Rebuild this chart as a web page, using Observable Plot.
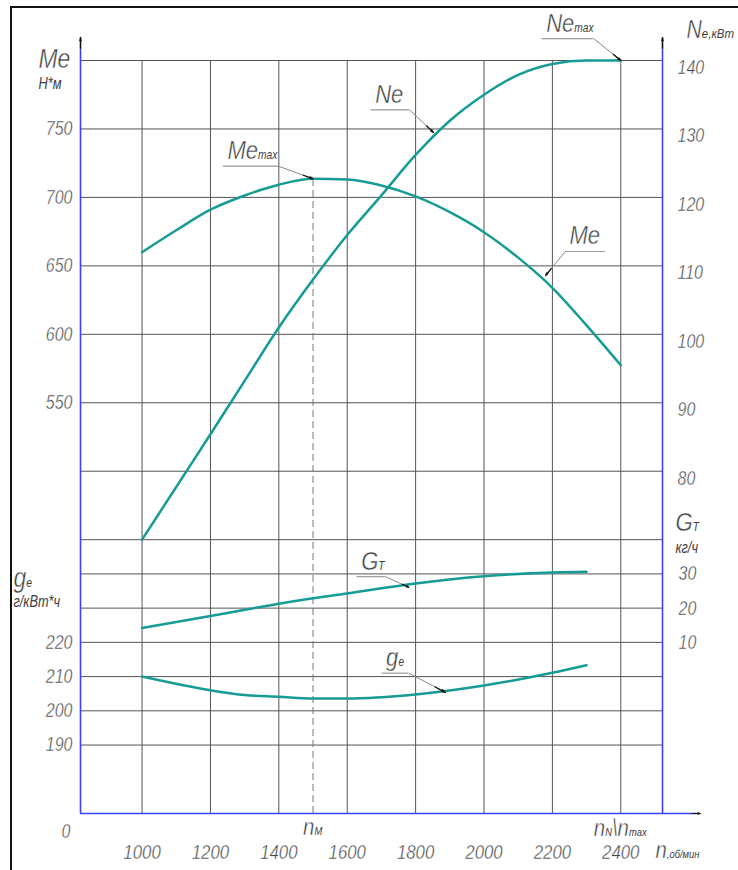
<!DOCTYPE html>
<html>
<head>
<meta charset="utf-8">
<script src="https://cdn.jsdelivr.net/npm/d3@7"></script>
<script src="https://cdn.jsdelivr.net/npm/@observablehq/plot@0.6"></script>
<style>
html, body { margin: 0; padding: 0; background: #fff; }
#wrap { position: relative; width: 738px; height: 870px; overflow: hidden; }
#frame { position: absolute; left: 10px; top: 6px; right: -10px; bottom: -10px;
  border-left: 2px solid #111; border-top: 2px solid #111; pointer-events: none; }
#chart svg text { stroke: #fff; stroke-width: 0.45px; }
#chart svg text tspan[font-size] { stroke: none; }
#chart svg text.small { stroke: none; }
</style>
</head>
<body>
<div id="wrap"><div id="chart"></div><div id="frame"></div></div>
<script>
// ---------- data ----------
const rpm = [1000, 1100, 1200, 1300, 1400, 1500, 1600, 1700, 1800, 1900, 2000, 2100, 2200, 2300, 2400];
const torque = [660, 676, 691, 701.4, 709.3, 713.6, 713.1, 708.7, 700.7, 689.2, 674.6, 656, 634, 606.5, 577.4]; // Me, Н*м
const power = [70, 77.7, 85.4, 93.2, 101.0, 108, 114.5, 120.3, 126.2, 131.2, 135.0, 137.9, 139.5, 140, 140];   // Ne, кВт

const rpmFuel = [1000, 1200, 1300, 1400, 1500, 1600, 1800, 2000, 2200, 2300];
const fuelHourly = [14.2, 17.7, 19.5, 21.3, 22.9, 24.3, 27.2, 29.3, 30.4, 30.6];             // GT, кг/ч
const fuelSpecific = [210, 206, 204.6, 204.1, 203.6, 203.6, 204.8, 207.4, 211.1, 213.3];     // ge, г/кВт*ч

const nM = 1500;   // speed at maximum torque
const nN = 2400;   // rated speed

const xTicks = [1000, 1200, 1400, 1600, 1800, 2000, 2200, 2400];
const torqueTicks = [750, 700, 650, 600, 550];
const specificTicks = [220, 210, 200, 190];
const powerTicks = [140, 130, 120, 110, 100, 90, 80];
const hourlyTicks = [30, 20, 10];
const torqueGrid = [800, 750, 700, 650, 600, 550, 500, 450];
const specificGrid = [240, 230, 220, 210, 200, 190];

// value ranges of the four vertical axes (all share the frame)
const xDomain = [820, 2522];
const torqueDomain = [250, 800];
const powerDomain = [30, 140];
const specificDomain = [170, 390];
const hourlyDomain = [-40, 180];

// annotation callouts: label, series, target point, underline (series units)
const notes = [
  {label: "Me_{max}", s: "Me", tx: 1500, ty: 713.6, ux1: 1238, ux2: 1399, uy: 722.8, end: "right"},
  {label: "Ne",       s: "Ne", tx: 1852, ty: 129.5, ux1: 1670, ux2: 1782, uy: 132.8, end: "right"},
  {label: "Ne_{max}", s: "Ne", tx: 2400, ty: 140,   ux1: 2170, ux2: 2321, uy: 143.2, end: "right"},
  {label: "Me",       s: "Me", tx: 2180, ty: 643,   ux1: 2238, ux2: 2355, uy: 660.5, end: "left"},
  {label: "G_{T}",    s: "Gt", tx: 1780, ty: 26.1,  ux1: 1629, ux2: 1712, uy: 29.2,  end: "right"},
  {label: "g_{e}",    s: "ge", tx: 1887, ty: 205.4, ux1: 1702, ux2: 1780, uy: 211,   end: "right"}
];

// ---------- helpers ----------
const mapTo = dom => v => torqueDomain[0] + (v - dom[0]) * (torqueDomain[1] - torqueDomain[0]) / (dom[1] - dom[0]);
const Y = {Me: v => v, Ne: mapTo(powerDomain), ge: mapTo(specificDomain), Gt: mapTo(hourlyDomain)};

const TEAL = "#169b95";
const BLUE = "#3f3fff";
const GRID = "#555";
const INK = "#404040";
const FONT = "'Liberation Sans', Arial, sans-serif";

const torqueData = rpm.map((n, i) => ({n, v: torque[i]}));
const powerData = rpm.map((n, i) => ({n, v: power[i]}));
const hourlyData = rpmFuel.map((n, i) => ({n, v: fuelHourly[i]}));
const specificData = rpmFuel.map((n, i) => ({n, v: fuelSpecific[i]}));

const axisTop = 817;       // arrow tips of vertical axes (torque units)
const axisRightEnd = 2633; // arrow tip of horizontal axis (rpm)

const leader = notes.map(d => {
  const sx = d.end === "right" ? d.ux2 : d.ux1;
  const sy = Y[d.s](d.uy), ty = Y[d.s](d.ty);
  return {sx, sy, tx: d.tx, ty, hx: sx + (d.tx - sx) * 0.72, hy: sy + (ty - sy) * 0.72};
});

function label(text, frameAnchor, dx, dy, o = {}) {
  return Plot.text([text], {
    text: d => d, frameAnchor, dx, dy,
    fontSize: o.size || 20, textAnchor: o.anchor || "start", lineAnchor: o.line || "bottom",
    fill: INK, fontFamily: FONT, fontStyle: "italic"
  });
}

const txt = {fill: INK, fontFamily: FONT, fontStyle: "italic", fontSize: 20};

const plot = Plot.plot({
  width: 738, height: 870,
  marginLeft: 80, marginRight: 76, marginTop: 60, marginBottom: 57,
  x: {domain: xDomain, axis: null},
  y: {domain: torqueDomain, axis: null},
  style: {fontFamily: FONT, background: "white", overflow: "visible"},
  marks: [
    // grid
    Plot.ruleY([...torqueGrid.map(Y.Me), ...specificGrid.map(Y.ge)], {stroke: GRID, strokeWidth: 1}),
    Plot.ruleX(xTicks, {y1: torqueDomain[0], y2: torqueDomain[1], stroke: GRID, strokeWidth: 1}),
    // n_M dashed
    Plot.ruleX([nM], {y1: torqueDomain[0], y2: torque[rpm.indexOf(nM)], stroke: "#777", strokeDasharray: "7,4"}),
    // axes
    Plot.ruleX([xDomain[0], xDomain[1]], {y1: torqueDomain[0], y2: axisTop - 4, stroke: BLUE, strokeWidth: 1.6}),
    Plot.ruleY([torqueDomain[0]], {x1: xDomain[0], x2: axisRightEnd - 10, stroke: BLUE, strokeWidth: 1.6}),
    Plot.arrow([
      {x1: xDomain[0], y1: axisTop - 8, x2: xDomain[0], y2: axisTop},
      {x1: xDomain[1], y1: axisTop - 8, x2: xDomain[1], y2: axisTop},
      {x1: axisRightEnd - 25, y1: torqueDomain[0], x2: axisRightEnd, y2: torqueDomain[0]}
    ], {x1: "x1", y1: "y1", x2: "x2", y2: "y2", stroke: "#111", strokeWidth: 1.2, headLength: 8, headAngle: 24}),
    // curves
    Plot.line(torqueData, {x: "n", y: d => Y.Me(d.v), stroke: TEAL, strokeWidth: 2.5, curve: "monotone-x"}),
    Plot.line(powerData, {x: "n", y: d => Y.Ne(d.v), stroke: TEAL, strokeWidth: 2.5, curve: "monotone-x"}),
    Plot.line(hourlyData, {x: "n", y: d => Y.Gt(d.v), stroke: TEAL, strokeWidth: 2.5, curve: "monotone-x"}),
    Plot.line(specificData, {x: "n", y: d => Y.ge(d.v), stroke: TEAL, strokeWidth: 2.5, curve: "monotone-x"}),
    // callouts
    Plot.ruleY(notes, {y: d => Y[d.s](d.uy), x1: "ux1", x2: "ux2", stroke: "#999", strokeWidth: 1.2}),
    Plot.link(leader, {x1: "sx", y1: "sy", x2: "tx", y2: "ty", stroke: "#888", strokeWidth: 1}),
    Plot.arrow(leader, {x1: "hx", y1: "hy", x2: "tx", y2: "ty", stroke: "#111", strokeWidth: 1.3, headLength: 7, headAngle: 28}),
    Plot.text(notes, {x: "ux1", y: d => Y[d.s](d.uy), text: "label", dx: 4, dy: -7, lineAnchor: "bottom", textAnchor: "start", ...txt, fontSize: 26}),
    // tick labels
    Plot.text(torqueTicks, {frameAnchor: "left", y: d => Y.Me(d), text: d => String(d), textAnchor: "end", dx: -8, ...txt}),
    Plot.text(specificTicks, {frameAnchor: "left", y: d => Y.ge(d), text: d => String(d), textAnchor: "end", dx: -8, ...txt}),
    Plot.text(powerTicks, {frameAnchor: "right", y: d => Y.Ne(d), text: d => String(d), textAnchor: "start", dx: 15, dy: 7, ...txt}),
    Plot.text(hourlyTicks, {frameAnchor: "right", y: d => Y.Gt(d), text: d => String(d), textAnchor: "start", dx: 16, ...txt}),
    Plot.text(xTicks, {frameAnchor: "bottom", x: d => d, text: d => String(d), dy: 45, ...txt, fontSize: 21}),
    Plot.text([nM], {frameAnchor: "bottom", x: d => d, text: () => "n_{M}", textAnchor: "start", dx: -10, dy: 21, lineAnchor: "bottom", ...txt, fontSize: 24}),
    Plot.text([nN], {frameAnchor: "bottom", x: d => d, text: () => "n_{N}\\n_{max}", textAnchor: "start", dx: -27, dy: 22, lineAnchor: "bottom", ...txt, fontSize: 24}),
    // axis titles
    label("0", "bottom-left", -10, 18, {anchor: "end", line: "middle"}),
    label("Me", "top-left", -42, 7, {size: 27}),
    label("Н*м", "top-left", -42, 28, {size: 16}),
    label("g_{e}", "top-left", -67, 526, {size: 27}),
    label("г/кВт*ч", "top-left", -67, 546, {size: 16}),
    label("N~{e,кВт}", "top-right", 24, -23, {size: 25}),
    label("G_{T}", "top-right", 13, 470, {size: 26}),
    label("кг/ч", "top-right", 13, 492, {size: 16}),
    label("n_{,об/мин}", "bottom-right", -7, 44, {size: 24})
  ]
});

// small-text runs: _{...} subscript size, ~{...} medium size
function richText(svg) {
  d3.select(svg).selectAll("text").each(function () {
    const raw = this.textContent;
    if (!/[_~]\{/.test(raw)) return;
    const node = d3.select(this).text(null);
    const re = /([_~])\{([^}]*)\}|([^_~]+)/g;
    let m;
    while ((m = re.exec(raw))) {
      if (m[3] !== undefined) node.append("tspan").text(m[3]);
      else node.append("tspan").attr("font-size", m[1] === "~" ? "0.54em" : "0.46em").text(m[2]);
    }
  });
}
richText(plot);
document.getElementById("chart").appendChild(plot);

// narrow the lettering like the drafting font of the original (horizontal scale about each anchor)
d3.select(plot).selectAll("text").each(function () {
  const fs = parseFloat(getComputedStyle(this).fontSize);
  const k = fs >= 24 ? 0.85 : 0.8;
  if (fs < 18) this.classList.add("small");
  const px = a => {
    const v = this.getAttribute(a);
    if (v == null || v === "") return 0;
    return v.trim().endsWith("em") ? parseFloat(v) * fs : (parseFloat(v) || 0);
  };
  const x = px("x"), y = px("y"), dy = px("dy");
  this.removeAttribute("x");
  this.removeAttribute("y");
  this.removeAttribute("dy");
  const t = this.getAttribute("transform") || "";
  this.setAttribute("transform", `${t} translate(${x},${y + dy}) scale(${k},1)`.trim());
});
</script>
</body>
</html>
